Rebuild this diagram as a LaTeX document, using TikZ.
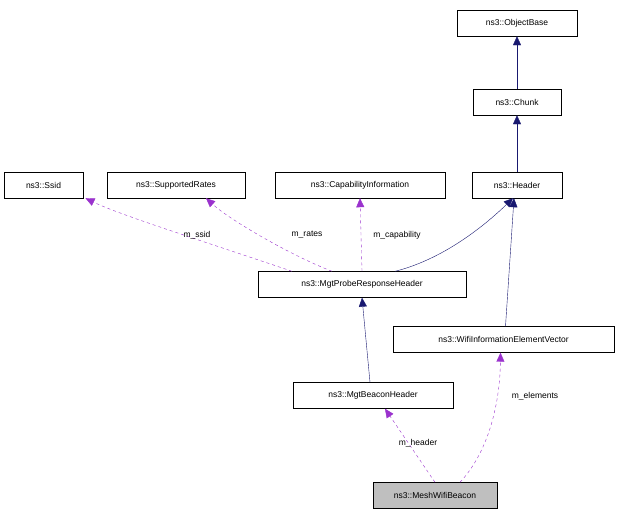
\documentclass[tikz,border=0pt]{standalone}
\usepackage{fontspec}
\setmainfont{Liberation Sans}
\usetikzlibrary{arrows.meta}
\begin{document}
\begin{tikzpicture}[x=1pt,y=-1pt,
  box/.style={draw,fill=white,inner sep=0pt,minimum height=26pt,font=\fontsize{8.5}{10}\selectfont},
  inh/.style={draw={rgb,255:red,25;green,25;blue,112},-{Triangle[length=9pt,width=8pt]}},
  use/.style={draw={rgb,255:red,154;green,50;blue,205},dashed,-{Triangle[length=9pt,width=8pt]}},
  lab/.style={font=\fontsize{8.5}{10}\selectfont}]
\useasboundingbox (0,0) rectangle (620,517);
\node[box,minimum width=120pt] (ob) at (517,23) {ns3::ObjectBase};
\node[box,minimum width=88pt] (ch) at (517,102) {ns3::Chunk};
\node[box,minimum width=90pt] (hd) at (517,185) {ns3::Header};
\node[box,minimum width=79pt] (ss) at (43.5,185) {ns3::Ssid};
\node[box,minimum width=138pt] (sr) at (176,185) {ns3::SupportedRates};
\node[box,minimum width=170pt] (ci) at (360,185) {ns3::CapabilityInformation};
\node[box,minimum width=208pt] (pr) at (362,284.5) {ns3::MgtProbeResponseHeader};
\node[box,minimum width=221pt] (wi) at (503.5,339.5) {ns3::WifiInformationElementVector};
\node[box,minimum width=160pt] (bh) at (373,395.5) {ns3::MgtBeaconHeader};
\node[box,minimum width=124pt,fill={rgb,255:red,191;green,191;blue,191}] (mw) at (435,495.5) {ns3::MeshWifiBeacon};
\draw[inh] (ch) -- (ob);
\draw[inh] (hd) -- (ch);
\draw[inh] ([xshift=33pt]pr.north) .. controls (440,260) and (480,230) .. ([xshift=-4pt]hd.south);
\draw[inh] ([xshift=2pt]wi.north) -- ([xshift=-3pt]hd.south);
\draw[inh] ([xshift=-3pt]bh.north) -- (pr.south);
\draw[use] ([xshift=-70pt]pr.north) .. controls (200,240) and (120,215) .. ([xshift=42pt]ss.south);
\draw[use] ([xshift=-30pt]pr.north) .. controls (290,255) and (230,220) .. ([xshift=30pt]sr.south);
\draw[use] (pr.north) -- (ci.south);
\draw[use] (mw.north) -- ([xshift=12pt]bh.south);
\draw[use] ([xshift=25pt]mw.north) .. controls (490,450) and (500,400) .. ([xshift=-3pt]wi.south);
\node[lab] at (197,235) {m\_ssid};
\node[lab] at (307,235) {m\_rates};
\node[lab] at (397,235) {m\_capability};
\node[lab] at (418,443) {m\_header};
\node[lab] at (535,396) {m\_elements};
\end{tikzpicture}
\end{document}
